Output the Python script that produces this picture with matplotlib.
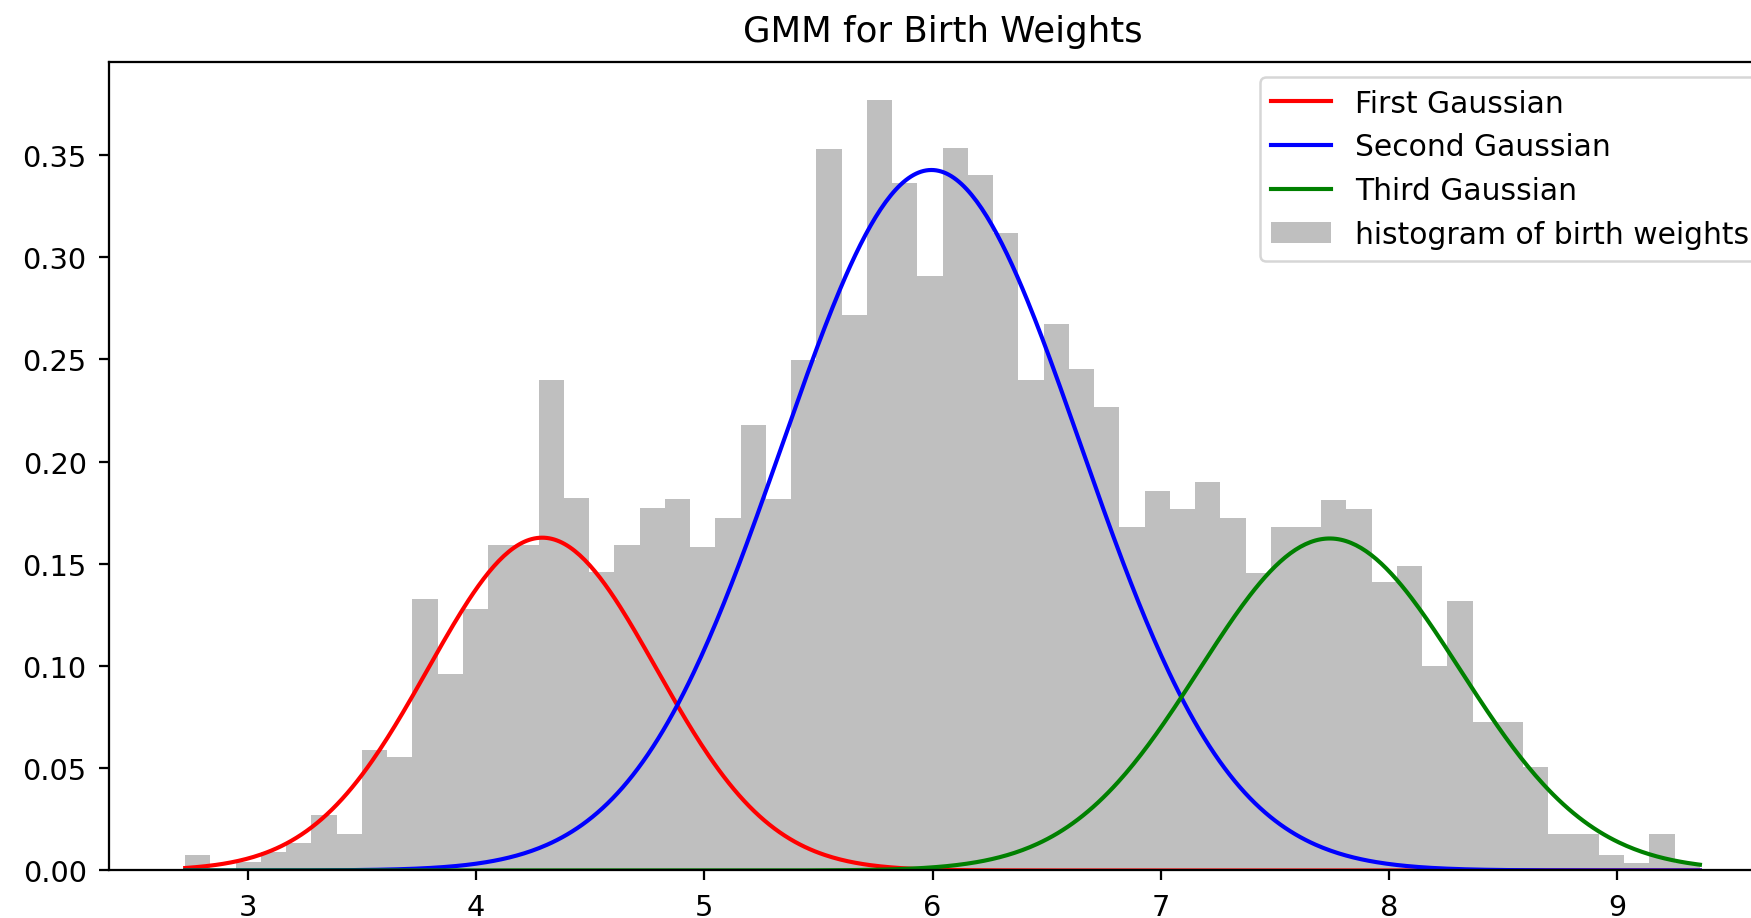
import numpy as np
import matplotlib
matplotlib.use("Agg")
import matplotlib.pyplot as plt

# ---- data ----
x_min = 2.726
x_max = 9.362
n_bins = 60
density_heights = [
    0.0076, 0.0, 0.004, 0.009, 0.0135, 0.027, 0.018, 0.059, 0.0556, 0.1326,
    0.096, 0.128, 0.159, 0.159, 0.240, 0.182, 0.146, 0.159, 0.1775, 0.1817,
    0.158, 0.1726, 0.218, 0.1817, 0.2496, 0.353, 0.2716, 0.3767, 0.336, 0.2907,
    0.3535, 0.340, 0.312, 0.240, 0.2674, 0.2455, 0.2266, 0.168, 0.1858, 0.177,
    0.190, 0.1726, 0.1455, 0.168, 0.168, 0.181, 0.177, 0.141, 0.149, 0.100,
    0.132, 0.0726, 0.0726, 0.0506, 0.018, 0.018, 0.0076, 0.0036, 0.018, 0.0036,
]
gmm_means = [4.29, 5.995, 7.74]
gmm_stds = [0.50, 0.655, 0.57]
gmm_weights = [0.204, 0.5625, 0.232]
gmm_labels = ["First Gaussian", "Second Gaussian", "Third Gaussian"]
gmm_colors = ["red", "blue", "green"]
hist_label = "histogram of birth weights"
title = "GMM for Birth Weights"

# ---- figure ----
DPI = 180
fig = plt.figure(figsize=(1752 / DPI, 919 / DPI), dpi=DPI)
ax = fig.add_axes([0.0625, 0.0517, 0.951, 0.880])

xs = np.linspace(x_min, x_max, 600)
for m, s, w, c, lab in zip(gmm_means, gmm_stds, gmm_weights, gmm_colors, gmm_labels):
    ys = w * np.exp(-(xs - m) ** 2 / (2 * s ** 2)) / (s * np.sqrt(2 * np.pi))
    ax.plot(xs, ys, color=c, label=lab, linewidth=1.65)

edges = np.linspace(x_min, x_max, n_bins + 1)
centers = (edges[:-1] + edges[1:]) / 2
ax.hist(centers, bins=edges, weights=density_heights, color="gray",
        alpha=0.5, label=hist_label)

ax.tick_params(axis="both", labelsize=11.5, length=4.1, pad=5, width=0.9)
for sp in ax.spines.values():
    sp.set_linewidth(0.9)

ax.set_title(title, pad=8.5, fontsize=14.2)
ax.legend(loc="upper right", fontsize=11.9)

fig.savefig("out.png", dpi=DPI)
